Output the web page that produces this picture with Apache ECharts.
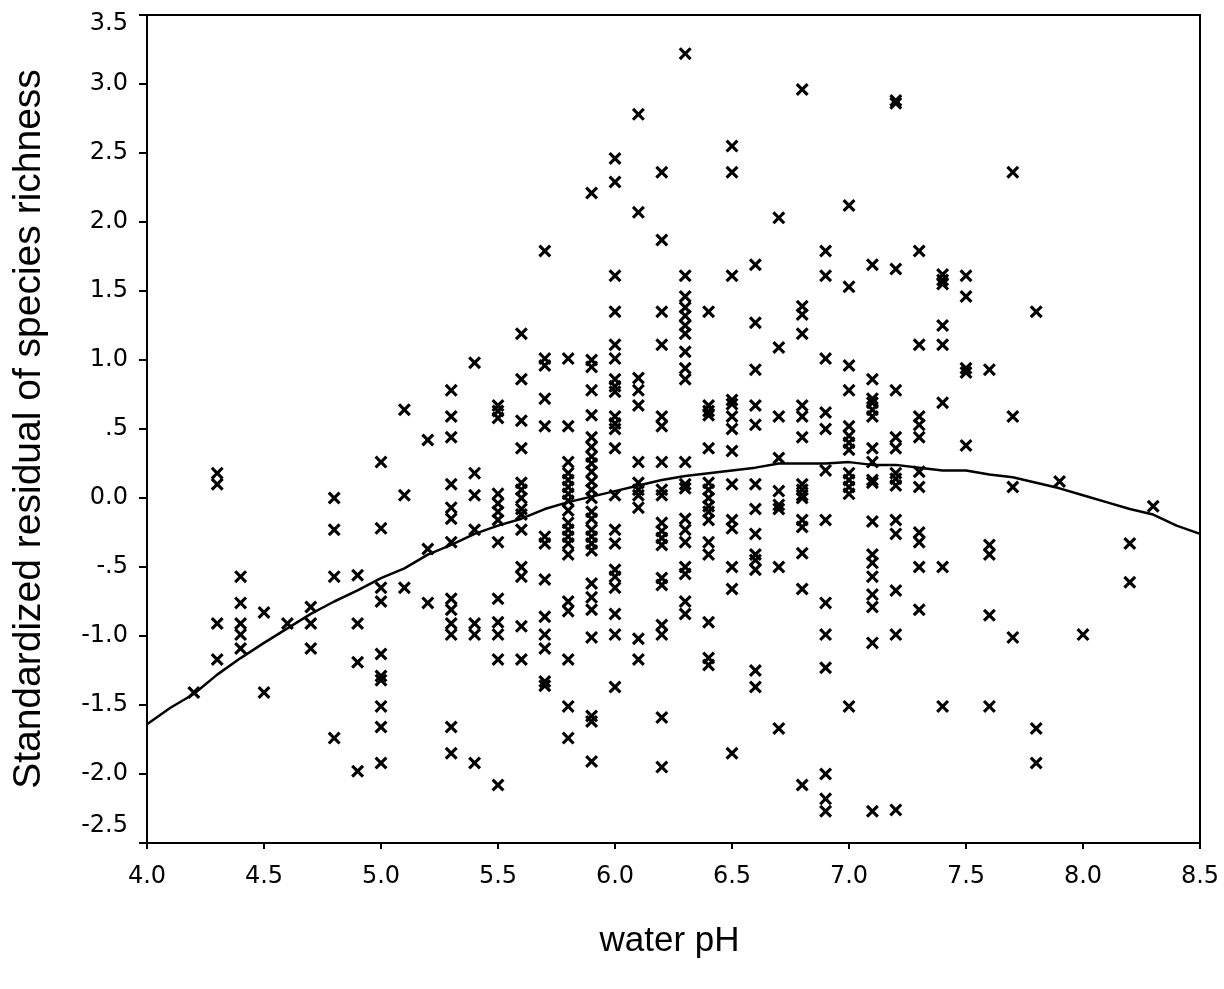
<!DOCTYPE html>
<html>
<head>
<meta charset="utf-8">
<title>Residual species richness vs water pH</title>
<script src="https://cdn.jsdelivr.net/npm/echarts@6/dist/echarts.min.js"></script>
<style>
  html, body { margin: 0; padding: 0; background: #fff; }
  #chart { width: 1224px; height: 989px; }
</style>
</head>
<body>
<div id="chart"></div>
<script>
// pH levels at which sites were sampled
const phLevels = [4.2, 4.3, 4.4, 4.5, 4.6, 4.7, 4.8, 4.9, 5.0, 5.1, 5.2, 5.3, 5.4, 5.5, 5.6, 5.7, 5.8, 5.9,
  6.0, 6.1, 6.2, 6.3, 6.4, 6.5, 6.6, 6.7, 6.8, 6.9, 7.0, 7.1, 7.2, 7.3, 7.4, 7.5, 7.6, 7.7, 7.8, 7.9, 8.0, 8.2, 8.3];

// Standardized residuals of species richness, one list per pH level
const residualsByPh = [
  [-1.41],
  [0.18, 0.10, -0.91, -1.17],
  [-0.57, -0.76, -0.91, -0.99, -1.09],
  [-0.83, -1.41],
  [-0.91],
  [-0.79, -0.91, -1.09],
  [0.0, -0.23, -0.57, -1.74],
  [-0.56, -0.91, -1.19, -1.98],
  [0.26, -0.22, -0.65, -0.75, -1.13, -1.29, -1.32, -1.51, -1.66, -1.92],
  [0.64, 0.02, -0.65],
  [0.42, -0.37, -0.76],
  [0.78, 0.59, 0.44, 0.10, -0.07, -0.15, -0.32, -0.73, -0.81, -0.91, -0.99, -1.66, -1.85],
  [0.98, 0.18, 0.02, -0.23, -0.91, -0.99, -1.92],
  [0.67, 0.63, 0.58, 0.03, -0.04, -0.10, -0.16, -0.32, -0.73, -0.90, -0.99, -1.17, -2.08],
  [1.19, 0.86, 0.56, 0.36, 0.11, 0.06, 0.0, -0.08, -0.12, -0.23, -0.50, -0.57, -0.93, -1.17],
  [1.79, 1.01, 0.96, 0.72, 0.52, -0.28, -0.33, -0.59, -0.86, -0.99, -1.09, -1.33, -1.36],
  [1.01, 0.52, 0.26, 0.18, 0.13, 0.08, 0.03, -0.02, -0.09, -0.18, -0.23, -0.28, -0.33, -0.41, -0.75, -0.82, -1.17, -1.51, -1.74],
  [2.21, 1.00, 0.95, 0.78, 0.60, 0.44, 0.37, 0.30, 0.25, 0.19, 0.12, 0.06, 0.0, -0.10, -0.15, -0.23, -0.28, -0.33, -0.38, -0.62, -0.72, -0.81, -1.01, -1.58, -1.62, -1.91],
  [2.46, 2.29, 1.61, 1.35, 1.11, 1.01, 0.86, 0.81, 0.77, 0.59, 0.54, 0.50, 0.36, 0.02, -0.23, -0.33, -0.52, -0.57, -0.65, -0.84, -0.99, -1.37],
  [2.78, 2.07, 0.87, 0.78, 0.67, 0.26, 0.11, 0.06, 0.02, -0.07, -1.02, -1.17],
  [2.36, 1.87, 1.35, 1.11, 0.59, 0.52, 0.26, 0.06, 0.02, -0.18, -0.24, -0.29, -0.34, -0.58, -0.63, -0.92, -0.99, -1.59, -1.95],
  [3.22, 1.61, 1.46, 1.38, 1.32, 1.25, 1.19, 1.06, 0.94, 0.86, 0.26, 0.10, 0.07, -0.15, -0.23, -0.32, -0.50, -0.55, -0.75, -0.84],
  [1.35, 0.67, 0.63, 0.60, 0.36, 0.11, 0.06, 0.0, -0.06, -0.10, -0.16, -0.32, -0.41, -0.90, -1.16, -1.21],
  [2.55, 2.36, 1.61, 0.71, 0.68, 0.59, 0.50, 0.34, 0.10, -0.16, -0.22, -0.50, -0.66, -1.85],
  [1.69, 1.27, 0.93, 0.67, 0.53, 0.10, -0.08, -0.26, -0.41, -0.45, -0.52, -1.25, -1.37],
  [2.03, 1.09, 0.59, 0.29, 0.05, -0.05, -0.08, -0.50, -1.67],
  [2.96, 1.39, 1.33, 1.19, 0.67, 0.59, 0.44, 0.10, 0.06, 0.02, 0.0, -0.16, -0.21, -0.40, -0.66, -2.08],
  [1.79, 1.61, 1.01, 0.62, 0.50, 0.20, -0.16, -0.76, -0.99, -1.23, -2.00, -2.18, -2.27],
  [2.12, 1.53, 0.96, 0.78, 0.52, 0.45, 0.40, 0.35, 0.18, 0.13, 0.08, 0.03, -1.51],
  [1.69, 0.86, 0.72, 0.69, 0.64, 0.59, 0.36, 0.26, 0.13, 0.11, -0.17, -0.41, -0.47, -0.57, -0.70, -0.79, -1.05, -2.27],
  [2.88, 2.86, 1.66, 0.78, 0.44, 0.36, 0.18, 0.14, 0.09, -0.16, -0.26, -0.67, -0.99, -2.26],
  [1.79, 1.11, 0.59, 0.53, 0.44, 0.19, 0.08, -0.25, -0.32, -0.50, -0.81],
  [1.62, 1.58, 1.55, 1.25, 1.11, 0.69, -0.50, -1.51],
  [1.61, 1.46, 0.94, 0.91, 0.38],
  [0.93, -0.34, -0.41, -0.85, -1.51],
  [2.36, 0.59, 0.08, -1.01],
  [1.35, -1.67, -1.92],
  [0.12],
  [-0.99],
  [-0.33, -0.61],
  [-0.06]
];

// Smoothed trend of residuals against pH
const trendPh = [4.0, 4.1, 4.2, 4.3, 4.4, 4.5, 4.6, 4.7, 4.8, 4.9, 5.0, 5.1, 5.2, 5.3, 5.4, 5.5, 5.6, 5.7,
  5.8, 5.9, 6.0, 6.1, 6.2, 6.3, 6.4, 6.5, 6.6, 6.7, 6.8, 6.9, 7.0, 7.1, 7.2, 7.3, 7.4, 7.5, 7.6, 7.7,
  7.8, 7.9, 8.0, 8.1, 8.2, 8.3, 8.4, 8.5];
const trendResidual = [-1.64, -1.52, -1.42, -1.28, -1.16, -1.05, -0.945, -0.84, -0.75, -0.67, -0.58, -0.51,
  -0.41, -0.34, -0.26, -0.20, -0.15, -0.08, -0.03, 0.01, 0.05, 0.09, 0.13, 0.16, 0.18, 0.20, 0.22, 0.25,
  0.25, 0.25, 0.26, 0.24, 0.24, 0.22, 0.20, 0.20, 0.17, 0.15, 0.11, 0.07, 0.02, -0.03, -0.08, -0.12,
  -0.20, -0.26];

// Axis settings
const xTicks = { min: 4.0, max: 8.5, step: 0.5 };
const yTicks = { min: -2.5, max: 3.5, step: 0.5 };

const sitePoints = [];
phLevels.forEach((ph, i) => {
  residualsByPh[i].forEach(r => sitePoints.push([ph, r]));
});
const trendPoints = trendPh.map((ph, i) => [ph, trendResidual[i]]);

// Tick labels drop the leading zero for |value| < 1 (".5", "-.5"), keep "0.0";
// the end labels are nudged inward so they stay inside the frame height.
function yLabel(v) {
  const a = Math.abs(v);
  let s;
  if (a < 1e-9) s = '0.0';
  else {
    s = a.toFixed(1);
    if (a < 1) s = s.slice(1);
    s = (v < 0 ? '-' : '') + s;
  }
  if (Math.abs(v - yTicks.min) < 1e-9) return '{low|' + s + '}';
  if (Math.abs(v - yTicks.max) < 1e-9) return '{high|' + s + '}';
  return s;
}

// Filled cross marker
const crossPath = 'path://M0,1.7L1.7,0L5,3.3L8.3,0L10,1.7L6.7,5L10,8.3L8.3,10L5,6.7L1.7,10L0,8.3L3.3,5Z';

const TICK_FONT = '"DejaVu Sans", Verdana, sans-serif';
const TITLE_FONT = '"Liberation Sans", Arial, Helvetica, sans-serif';
const TICK_SIZE = 24;

const chart = echarts.init(document.getElementById('chart'), null, { renderer: 'canvas' });
chart.setOption({
  backgroundColor: '#ffffff',
  animation: false,
  grid: {
    left: 147, right: 24, top: 15, bottom: 146,
    show: true, borderColor: '#000', borderWidth: 2, backgroundColor: 'transparent'
  },
  xAxis: {
    type: 'value',
    min: xTicks.min, max: xTicks.max, interval: xTicks.step,
    name: 'water pH',
    nameLocation: 'middle',
    nameGap: 81,
    nameTextStyle: { fontFamily: TITLE_FONT, fontSize: 35, color: '#000', padding: [0, 8, 0, 0] },
    axisLine: { show: true, onZero: false, lineStyle: { color: '#000', width: 2 } },
    axisTick: { show: true, inside: false, length: 6, lineStyle: { color: '#000', width: 2 } },
    axisLabel: { fontFamily: TICK_FONT, fontSize: TICK_SIZE, color: '#000', margin: 22, formatter: v => v.toFixed(1) },
    splitLine: { show: false }
  },
  yAxis: {
    type: 'value',
    min: yTicks.min, max: yTicks.max, interval: yTicks.step,
    name: 'Standardized residual of species richness',
    nameLocation: 'middle',
    nameGap: 98,
    nameRotate: 90,
    nameTextStyle: { fontFamily: TITLE_FONT, fontSize: 39, color: '#000' },
    axisLine: { show: true, onZero: false, lineStyle: { color: '#000', width: 2 } },
    axisTick: { show: true, inside: false, length: 8, lineStyle: { color: '#000', width: 2 } },
    axisLabel: {
      fontFamily: TICK_FONT, fontSize: TICK_SIZE, color: '#000', margin: 19, formatter: yLabel,
      rich: {
        low: { fontFamily: TICK_FONT, fontSize: TICK_SIZE, color: '#000', padding: [0, 0, 34, 0] },
        high: { fontFamily: TICK_FONT, fontSize: TICK_SIZE, color: '#000', padding: [18, 0, 0, 0] }
      }
    },
    splitLine: { show: false }
  },
  series: [
    {
      name: 'sites',
      type: 'scatter',
      data: sitePoints,
      symbol: crossPath,
      symbolSize: 13,
      itemStyle: { color: '#000', opacity: 1 },
      z: 3
    },
    {
      name: 'trend',
      type: 'line',
      data: trendPoints,
      showSymbol: false,
      symbol: 'none',
      smooth: false,
      lineStyle: { color: '#000', width: 2.5 },
      z: 4
    }
  ]
});
</script>
</body>
</html>
